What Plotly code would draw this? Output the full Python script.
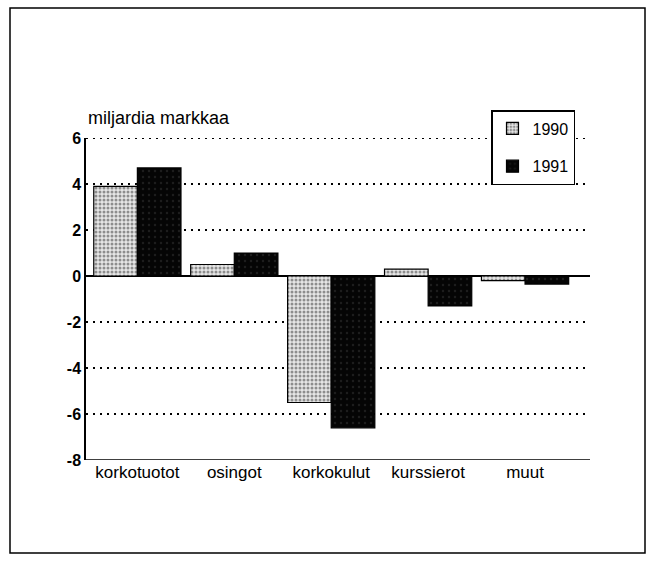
import plotly.graph_objects as go

categories = ["korkotuotot", "osingot", "korkokulut", "kurssierot", "muut"]
values_1990 = [3.9, 0.5, -5.5, 0.3, -0.2]
values_1991 = [4.7, 1.0, -6.6, -1.3, -0.35]
y_ticks = [6, 4, 2, 0, -2, -4, -6, -8]
grid_vals = [6, 4, 2, -2, -4, -6]

W, H = 655, 563
L, R, T, B = 86, 65, 138, 103
pw, ph = W - L - R, H - T - B

def px(x):
    return (x - L) / pw

def py(y):
    return (H - B - y) / ph

FONT = "Liberation Sans, Arial, Helvetica, sans-serif"

fig = go.Figure()
fig.add_trace(go.Bar(
    x=categories, y=values_1990, name="1990", legendgroup="a",
    marker=dict(color="#d8d8d8", line=dict(color="black", width=1.2),
                pattern=dict(shape=".", bgcolor="#e6e6e6", fgcolor="#333", size=4, solidity=0.45)),
))
fig.add_trace(go.Bar(
    x=categories, y=values_1991, name="1991", legendgroup="b",
    marker=dict(color="#000000", line=dict(color="black", width=1.2),
                pattern=dict(shape=".", bgcolor="#050505", fgcolor="#333", size=6, solidity=0.12)),
))

shapes = [
    dict(type="line", xref="paper", yref="y", x0=0, x1=1, y0=g, y1=g,
         line=dict(color="black", width=2, dash="2px,5px"), layer="below")
    for g in grid_vals
]
shapes += [
    dict(type="line", xref="paper", yref="y", x0=0, x1=1, y0=-8, y1=-8,
         line=dict(color="black", width=1.5)),
    dict(type="rect", xref="paper", yref="paper",
         x0=px(10), x1=px(645), y0=py(8), y1=py(553),
         line=dict(color="black", width=1.5), layer="below"),
]

fig.update_layout(
    width=W, height=H,
    margin=dict(l=L, r=R, t=T, b=B),
    paper_bgcolor="white", plot_bgcolor="white",
    barmode="group", bargap=0.1, bargroupgap=0,
    font=dict(family=FONT, size=16, color="black"),
    showlegend=True,
    legend=dict(x=px(491), y=py(110), xanchor="left", yanchor="top",
                bgcolor="white", bordercolor="black", borderwidth=1.5,
                font=dict(size=16, family=FONT), itemwidth=30,
                tracegroupgap=14),
    xaxis=dict(range=[-0.53, 4.67], showgrid=False, showline=False,
               ticks="", tickfont=dict(size=17, family=FONT), zeroline=False),
    yaxis=dict(range=[-8, 6], tickvals=y_ticks, ticktext=["<b>%d</b>" % v for v in y_ticks],
               showgrid=False,
               zeroline=True, zerolinecolor="black", zerolinewidth=1.5,
               showline=True, linecolor="black", linewidth=1.5,
               ticks="", ticklen=0,
               tickfont=dict(size=16, family=FONT)),
    annotations=[dict(text="miljardia markkaa", xref="paper", yref="paper",
                      x=px(86), y=py(118), xanchor="left", yanchor="middle",
                      showarrow=False, font=dict(size=18, family=FONT))],
    shapes=shapes,
)

fig.write_html("out.html", config={"displayModeBar": False},
               post_script="document.body.style.margin='0';")
